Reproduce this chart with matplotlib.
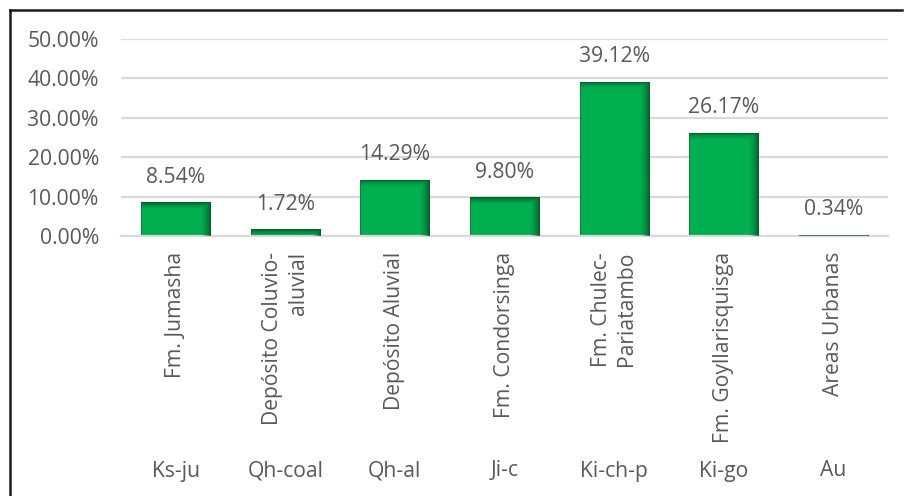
import numpy as np
import matplotlib.pyplot as plt
from matplotlib.lines import Line2D
from matplotlib.transforms import blended_transform_factory
from matplotlib.colors import to_rgb

plt.rcParams['font.family'] = ['Open Sans', 'DejaVu Sans']

# === DATA ===
codes = ["Ks-ju", "Qh-coal", "Qh-al", "Ji-c", "Ki-ch-p", "Ki-go", "Au"]
units = ["Fm. Jumasha", "Depósito Coluvio-\naluvial", "Depósito Aluvial",
         "Fm. Condorsinga", "Fm. Chulec-\nPariatambo", "Fm. Goyllarisquisga",
         "Areas Urbanas"]
percent = [8.54, 1.72, 14.29, 9.80, 39.12, 26.17, 0.34]
yticks = [0, 10, 20, 30, 40, 50]

# === STYLE ===
W, H = 907, 496
text_color = "#595959"
bar_color = "#00B050"
shade_color = "#005A27"
grid_color = "#D9D9D9"
fs = 15.2

fig = plt.figure(figsize=(W / 100, H / 100), dpi=100)
ax = fig.add_axes([121 / W, 260 / H, 767 / W, 197 / H])

x = np.arange(len(codes))
bars = ax.bar(x, percent, width=0.63, color=bar_color, edgecolor="#006B2F",
              linewidth=0.6, zorder=2)

ax.set_xlim(-0.5, len(codes) - 0.5)
ax.set_ylim(0, 50)
ax.set_yticks(yticks)
ax.set_yticklabels([f"{v:.2f}%" for v in yticks], color=text_color, fontsize=fs)
ax.set_xticks([])
ax.tick_params(axis="y", length=0, pad=16)
ax.yaxis.grid(True, color=grid_color, lw=1.6, zorder=0)
for s in ["top", "right", "left"]:
    ax.spines[s].set_visible(False)
ax.spines["bottom"].set_color(grid_color)
ax.spines["bottom"].set_linewidth(1.6)

# inner shadow on the right and top edges of each bar
fig.canvas.draw()
to_px = ax.transData
dark = np.array(to_rgb(shade_color))
for b in bars:
    x0, y0 = b.get_x(), b.get_y()
    x1, y1 = x0 + b.get_width(), y0 + b.get_height()
    (px0, py0), (px1, py1) = to_px.transform([(x0, y0), (x1, y1)])
    nw = max(int(round(px1 - px0)), 2)
    nh = max(int(round(py1 - py0)), 2)
    cols = np.arange(nw) + 0.5
    rows = np.arange(nh) + 0.5
    d_right = (nw - cols)[None, :]
    d_top = rows[:, None]
    a_right = np.clip(1 - d_right / 11.0, 0, 1) ** 1.6
    a_top = np.clip(1 - d_top / 8.0, 0, 1) ** 1.6
    alpha = np.maximum(a_right, a_top)
    img = np.zeros((nh, nw, 4))
    img[..., :3] = dark
    img[..., 3] = alpha * 0.95
    im = ax.imshow(img, extent=(x0, x1, y0, y1), origin="upper",
                   aspect="auto", zorder=3, interpolation="bilinear")
    im.set_clip_path(b)
ax.set_xlim(-0.5, len(codes) - 0.5)
ax.set_ylim(0, 50)

# value labels
for xi, v in zip(x, percent):
    ax.annotate(f"{v:.2f}%", (xi, v), xytext=(0, 14), textcoords="offset points",
                ha="center", va="baseline", color=text_color, fontsize=fs)

# two-level category axis
trans = blended_transform_factory(ax.transData, fig.transFigure)
for xi, name, code in zip(x, units, codes):
    ax.text(xi, 1 - 252 / H, name, transform=trans, rotation=90, ha="center",
            va="top", multialignment="right", color=text_color, fontsize=fs,
            linespacing=1.3)
    ax.text(xi, 1 - 471 / H, code, transform=trans, ha="center", va="center",
            color=text_color, fontsize=fs)

# outer frame
fig.add_artist(Line2D([10 / W, 902 / W], [1 - 10 / H, 1 - 10 / H],
                      transform=fig.transFigure, color="#1a1a1a", lw=1.8))
fig.add_artist(Line2D([10 / W, 10 / W], [0, 1 - 10 / H],
                      transform=fig.transFigure, color="#1a1a1a", lw=1.8))

fig.savefig("out.png", dpi=100)
